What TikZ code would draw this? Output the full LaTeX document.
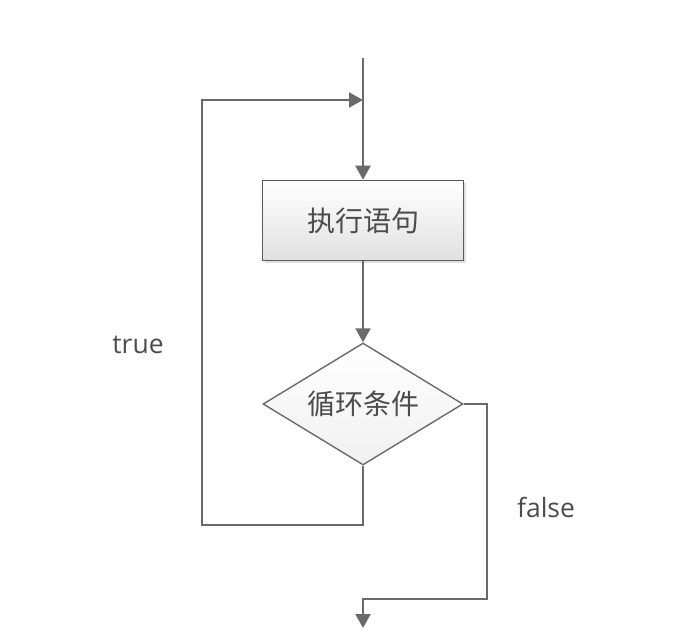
\documentclass[tikz,border=0pt]{standalone}
\usepackage{fontspec}
\setmainfont{Open Sans}
\newfontfamily\cjk{Noto Sans CJK SC}
\usepackage{tikz}
\usetikzlibrary{arrows.meta, shapes.geometric, shadows}
\definecolor{linegray}{HTML}{6A6A6A}
\definecolor{textgray}{HTML}{4C4C4C}
\tikzset{
  flowline/.style={draw=linegray, line width=2.3pt},
  flowarrow/.style={flowline, -{Triangle[width=15pt,length=14pt]}},
  stmtbox/.style={rectangle, draw=linegray!85!black, line width=1.6pt,
    top color=white, bottom color=black!12, minimum width=201pt,
    minimum height=80pt, inner sep=0pt,
    drop shadow={shadow xshift=2pt, shadow yshift=-2pt, opacity=.25}},
  condbox/.style={diamond, draw=linegray, line width=1.4pt,
    top color=white, bottom color=black!6, minimum width=200pt,
    minimum height=122pt, inner sep=0pt},
  caption/.style={text=textgray, font=\fontsize{26.5}{30}\selectfont},
  cjkcaption/.style={text=textgray, font=\cjk\fontsize{28}{32}\selectfont},
}
\begin{document}
\begin{tikzpicture}[auto, x=1pt, y=-1pt]
      \useasboundingbox (0,0) rectangle (698,640);
      \coordinate (start) at (363,58);
      \coordinate (join) at (363,100);
      \node[stmtbox, cjkcaption] (stmt) at (363,220.5) {执行语句};
      \node[condbox, label={[cjkcaption]center:循环条件}] (cond) at (363,404) {};
      \coordinate (bl) at (202,525);
      \coordinate (fr) at (487,599);
      \coordinate (stop) at (363,628);
      \node[caption] (true) at (138,345) {true};
      \node[caption] (false) at (546,507) {false};
      % vertical lines
      \draw[flowarrow] (start) -- (stmt);
      \draw[flowarrow] (stmt) -- (cond);
      % loop back
      \draw[flowarrow] (cond.south) |- (bl) |- (join);
      % exit
      \draw[flowarrow] (cond.east) -| (fr) -| (stop);
    \end{tikzpicture}
\end{document}
